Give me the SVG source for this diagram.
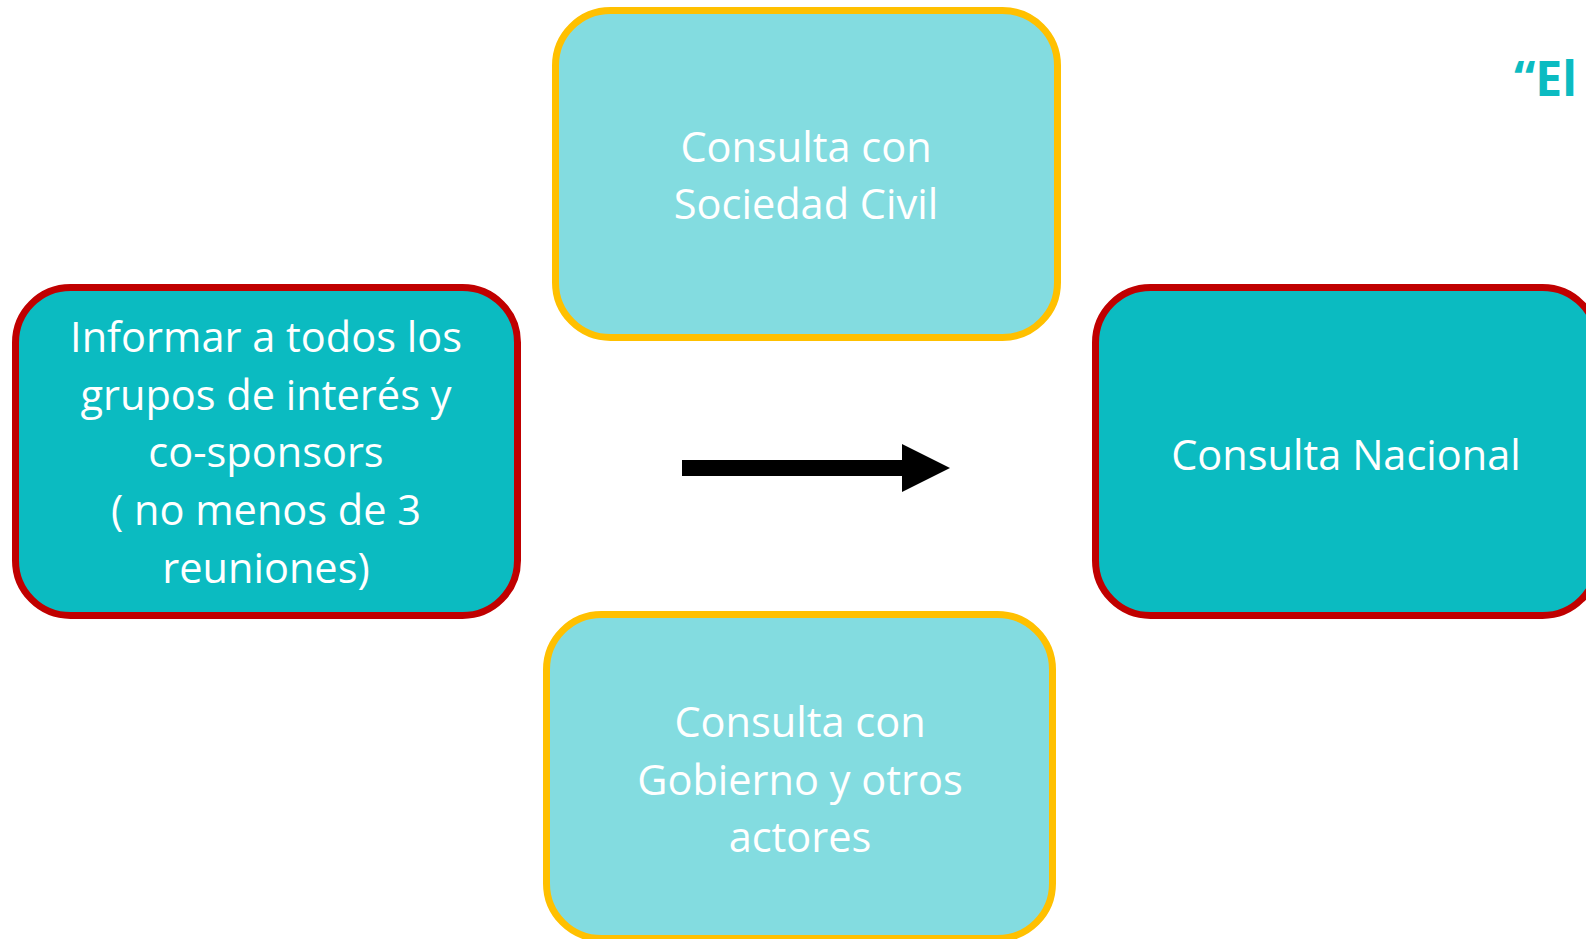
<svg xmlns="http://www.w3.org/2000/svg" width="1586" height="939" viewBox="0 0 1586 939">
<style>
.dark{fill:#0BBBC1;stroke:#C00000;stroke-width:7}
.light{fill:#83DCE0;stroke:#FFC000;stroke-width:7}
.t{font-family:"Open Sans","Liberation Sans",sans-serif;font-size:41.5px;fill:#FFFFFF;text-anchor:middle}
.title{font-family:"Open Sans","Liberation Sans",sans-serif;font-size:48px;font-weight:bold;fill:#0BBBC1}
</style>
<rect width="1586" height="939" fill="#FFFFFF"/>
<g id="node-informar">
<rect class="dark" x="15.5" y="287.5" width="502" height="328" rx="55"/>
<text class="t"><tspan x="266" y="352">Informar a todos los</tspan><tspan x="266" y="410">grupos de interés y</tspan><tspan x="266" y="467">co-sponsors</tspan><tspan x="266" y="525">( no menos de 3</tspan><tspan x="266" y="583">reuniones)</tspan></text>
</g>
<g id="node-sociedad">
<rect class="light" x="555.5" y="10.5" width="502" height="327" rx="55"/>
<text class="t"><tspan x="806" y="162">Consulta con</tspan><tspan x="806" y="219">Sociedad Civil</tspan></text>
</g>
<g id="node-gobierno">
<rect class="light" x="546.5" y="614.5" width="506" height="324" rx="55"/>
<text class="t"><tspan x="800" y="737">Consulta con</tspan><tspan x="800" y="795">Gobierno y otros</tspan><tspan x="800" y="852">actores</tspan></text>
</g>
<g id="node-nacional">
<rect class="dark" x="1095.5" y="287.5" width="502" height="328" rx="55"/>
<text class="t" x="1346" y="470">Consulta Nacional</text>
</g>
<g id="connectors">
<polygon points="682,460 902,460 902,444 950,468 902,492 902,476 682,476" fill="#000000"/>
</g>
<text class="title" x="1514" y="96">“El</text>
</svg>
